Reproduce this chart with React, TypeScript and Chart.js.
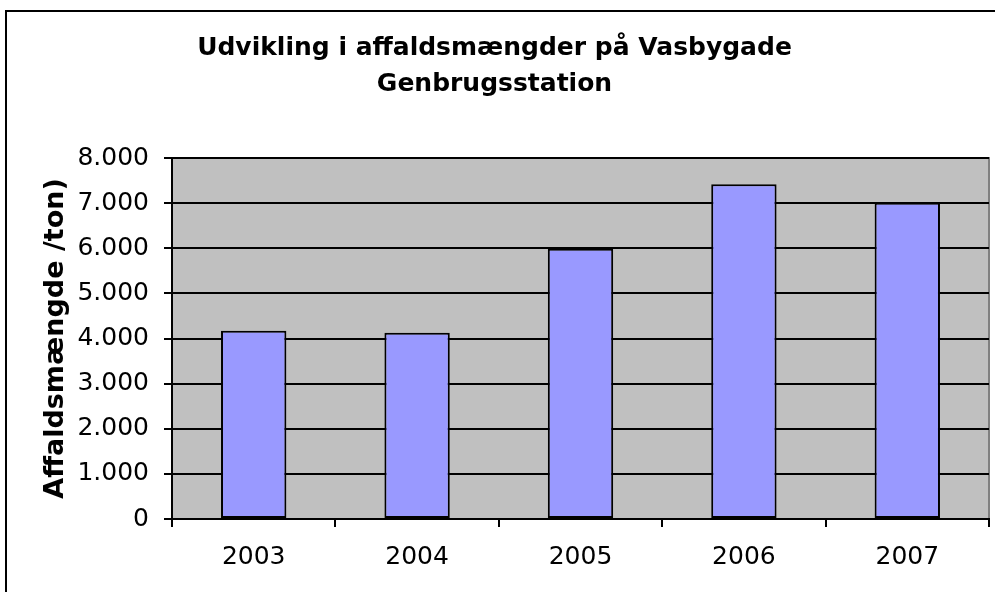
import React, { useEffect, useRef } from "react";
import { Chart, registerables } from "chart.js";

Chart.register(...registerables);

const titleLines = ["Udvikling i affaldsmængder på Vasbygade", "Genbrugsstation"];
const yAxisTitle = "Affaldsmængde /ton)";
const years = ["2003", "2004", "2005", "2006", "2007"];
const tons = [4170, 4130, 5990, 7420, 7010];
const yMin = 0;
const yMax = 8000;
const yStep = 1000;

function formatDa(v: number): string {
  const s = Math.round(v).toString();
  return s.replace(/\B(?=(\d{3})+(?!\d))/g, ".");
}

const FONT = "'DejaVu Sans', Verdana, sans-serif";

const backgroundPlugin = {
  id: "bgFrame",
  beforeDraw(chart: any) {
    const { ctx, chartArea } = chart;
    ctx.save();
    ctx.fillStyle = "#ffffff";
    ctx.fillRect(0, 0, chart.width, chart.height);
    ctx.strokeStyle = "#000000";
    ctx.lineWidth = 2;
    ctx.strokeRect(6, 11, chart.width + 10, chart.height + 10);
    ctx.fillStyle = "#C0C0C0";
    ctx.fillRect(chartArea.left, chartArea.top, chartArea.right - chartArea.left, chartArea.bottom - chartArea.top);
    ctx.strokeStyle = "#808080";
    ctx.lineWidth = 2;
    ctx.beginPath();
    ctx.moveTo(chartArea.left, chartArea.top);
    ctx.lineTo(chartArea.right, chartArea.top);
    ctx.lineTo(chartArea.right, chartArea.bottom);
    ctx.stroke();
    ctx.restore();
  },
};

export default function App() {
  const ref = useRef<HTMLCanvasElement | null>(null);
  useEffect(() => {
    document.body.style.margin = "0";
    const canvas = ref.current;
    if (!canvas) return;
    const chart = new Chart(canvas, {
      type: "bar",
      data: {
        labels: years,
        datasets: [
          {
            data: tons,
            backgroundColor: "#9999FF",
            borderColor: "#000000",
            borderWidth: 2,
            borderSkipped: false,
            categoryPercentage: 1,
            barPercentage: 0.4,
          },
        ],
      },
      options: {
        animation: false,
        responsive: false,
        maintainAspectRatio: false,
        layout: { padding: { left: 0, right: 6, top: 0, bottom: 5 } },
        plugins: {
          legend: { display: false },
          tooltip: { enabled: false },
          title: {
            display: true,
            text: titleLines,
            color: "#000000",
            font: { family: FONT, size: 25, weight: "bold", lineHeight: 1.44 },
            padding: { top: 30, bottom: 56 },
          },
        },
        scales: {
          x: {
            offset: true,
            grid: {
              display: true,
              offset: true,
              drawOnChartArea: false,
              drawTicks: true,
              tickLength: 8,
              color: "#000000",
              lineWidth: 2,
            },
            border: { display: true, color: "#000000", width: 2 },
            ticks: {
              color: "#000000",
              font: { family: FONT, size: 25 },
              padding: 15,
            },
          },
          y: {
            min: yMin,
            max: yMax,
            afterFit(scale: any) {
              scale.width = 172;
            },
            grid: {
              display: true,
              drawOnChartArea: true,
              drawTicks: true,
              tickLength: 8,
              color: "#000000",
              lineWidth: 2,
            },
            border: { display: true, color: "#000000", width: 2 },
            ticks: {
              stepSize: yStep,
              color: "#000000",
              font: { family: FONT, size: 25 },
              padding: 15,
              callback: (v: any) => formatDa(Number(v)),
            },
            title: {
              display: true,
              text: yAxisTitle,
              color: "#000000",
              font: { family: FONT, size: 27, weight: "bold" },
              padding: { top: 40, bottom: 0 },
            },
          },
        },
      },
      plugins: [backgroundPlugin],
    });
    return () => chart.destroy();
  }, []);
  return (
    <div style={{ width: 995, height: 592, position: "relative" }}>
      <canvas ref={ref} width={995} height={592} style={{ display: "block", width: 995, height: 592 }} />
    </div>
  );
}
